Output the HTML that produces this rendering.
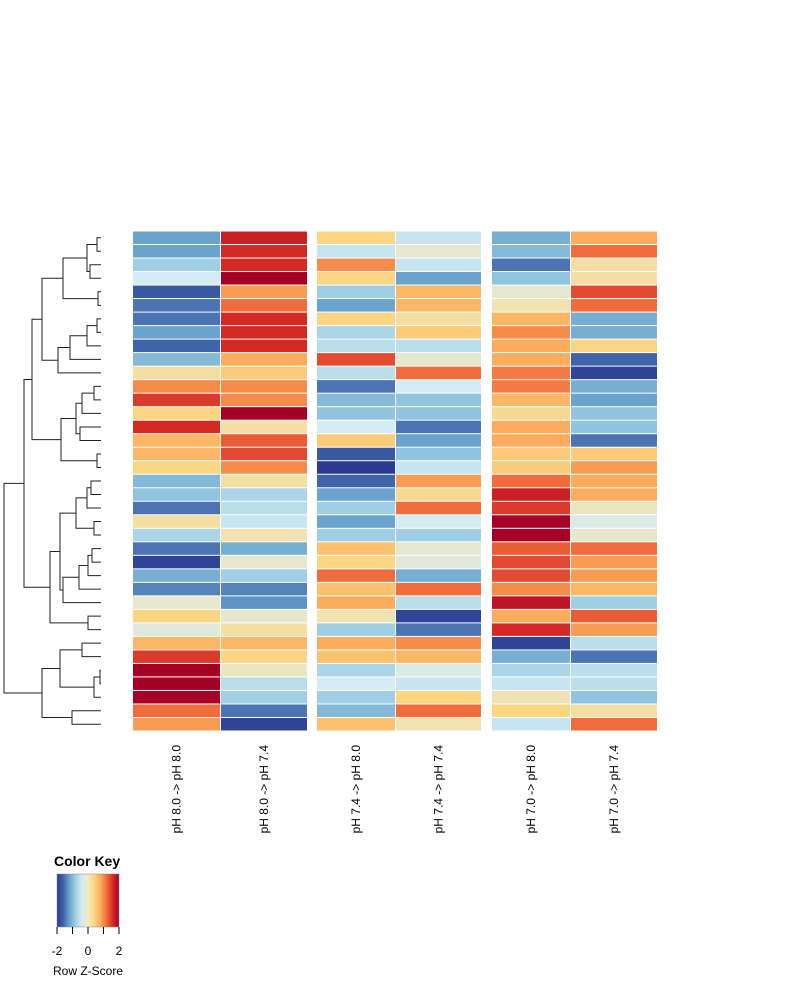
<!DOCTYPE html>
<html><head><meta charset="utf-8"><style>
body{margin:0;background:#fff;font-family:"Liberation Sans",Arial,sans-serif}
svg{display:block}
</style></head><body>
<svg id="chart" width="800" height="1000" viewBox="0 0 800 1000" xmlns="http://www.w3.org/2000/svg">
<g id="dendro" stroke="#222" stroke-width="1" fill="none"></g>
<g id="cells"></g>
<g id="collabels" font-size="12" fill="#000"></g>
<g>
<defs><linearGradient id="kg" x1="0" x2="1" y1="0" y2="0">
<stop offset="0" stop-color="#2b3990"/><stop offset="0.1" stop-color="#3f64a9"/><stop offset="0.2" stop-color="#6aa3cc"/><stop offset="0.3" stop-color="#9ecfe4"/><stop offset="0.4" stop-color="#d4ecf3"/><stop offset="0.5" stop-color="#f3ebc0"/><stop offset="0.6" stop-color="#fbd582"/><stop offset="0.7" stop-color="#fbac5c"/><stop offset="0.8" stop-color="#f06c3c"/><stop offset="0.9" stop-color="#d42a25"/><stop offset="1" stop-color="#a50026"/>
</linearGradient></defs>
<text x="54" y="866" font-size="14" font-weight="bold">Color Key</text>
<rect x="57" y="874" width="62" height="53" fill="url(#kg)" stroke="#888" stroke-width="0.5"/>
<g stroke="#000" stroke-width="1">
<line x1="57" y1="927" x2="57" y2="934"/><line x1="72.5" y1="927" x2="72.5" y2="934"/><line x1="88" y1="927" x2="88" y2="934"/><line x1="103.5" y1="927" x2="103.5" y2="934"/><line x1="119" y1="927" x2="119" y2="934"/>
</g>
<g font-size="12" text-anchor="middle">
<text x="57" y="955">-2</text>
<text x="88" y="955">0</text>
<text x="119" y="955">2</text>
<text x="88" y="975">Row Z-Score</text>
</g>
</g>
</svg>
<script>
const columns = ["pH 8.0 -> pH 8.0","pH 8.0 -> pH 7.4","pH 7.4 -> pH 8.0","pH 7.4 -> pH 7.4","pH 7.0 -> pH 8.0","pH 7.0 -> pH 7.4"];
const rowValues = [
[-1.2,1.7,0.4,-0.5,-1.1,0.8],[-1.2,1.6,-0.5,-0.1,-1.0,1.2],[-0.8,1.6,1.0,-0.5,-1.5,0.2],[-0.4,2.0,0.4,-1.2,-0.9,0.2],
[-1.7,0.9,-0.8,0.7,-0.1,1.4],[-1.5,1.2,-1.2,0.7,0.1,1.2],[-1.5,1.6,0.4,0.2,0.7,-1.1],[-1.2,1.6,-0.7,0.5,1.0,-1.1],
[-1.6,1.6,-0.6,-0.6,0.8,0.4],[-1.0,0.8,1.4,-0.1,0.8,-1.6],[0.2,0.5,-0.6,1.2,1.1,-1.9],[1.0,1.0,-1.5,-0.4,1.1,-1.1],
[1.5,1.0,-1.0,-0.9,0.7,-1.2],[0.4,2.0,-0.9,-0.9,0.3,-0.9],[1.6,0.2,-0.4,-1.5,0.8,-0.9],[0.7,1.3,0.5,-1.2,0.8,-1.5],
[0.7,1.4,-1.7,-0.9,0.5,0.5],[0.4,1.0,-2.0,-0.5,0.5,0.9],[-1.0,0.2,-1.6,0.9,1.2,0.8],[-0.9,-0.7,-1.2,0.3,1.7,0.8],
[-1.5,-0.6,-0.8,1.2,1.5,0.0],[0.2,-0.5,-1.2,-0.4,2.0,-0.3],[-0.7,0.1,-0.8,-0.8,2.0,-0.1],[-1.5,-1.1,0.6,-0.1,1.3,1.2],
[-1.9,-0.1,0.4,-0.2,1.4,0.9],[-1.1,-0.8,1.2,-1.1,1.4,0.9],[-1.4,-1.4,0.6,1.2,1.0,0.7],[-0.1,-1.3,0.8,-0.6,1.8,-0.8],
[0.4,-0.1,0.1,-1.9,0.8,1.3],[-0.2,0.2,-0.8,-1.5,1.6,0.9],[0.7,0.7,0.8,1.0,-1.9,-0.6],[1.5,0.4,0.6,0.7,-1.1,-1.5],
[2.0,0.0,-0.7,-0.3,-0.7,-0.6],[2.0,-0.6,-0.4,-0.5,-0.5,-0.6],[2.0,-0.8,-0.8,0.4,0.1,-0.9],[1.2,-1.5,-1.0,1.2,0.4,0.2],
[0.9,-1.9,0.6,0.1,-0.5,1.2]];
const zTicks = [-2,0,2];
// dendrogram merges: [left, right, height] ; leaves are numbers 0..36, internal nodes referenced as "n"+index
const merges = [
[0,1,97],[2,3,90],["n0","n1",87],[4,5,98],["n2","n3",63],
[6,7,97],["n5",8,87],["n6",9,70],["n7",10,58],["n4","n8",42],
[11,12,94],["n10",13,82],[14,15,80],["n11","n12",76],[16,17,97],["n13","n14",61],["n9","n15",32],
[18,19,91],["n17",20,87],[21,22,94],["n18","n19",76],[23,24,92],["n21",25,88],["n22",26,79],["n23",27,63],
["n20","n24",60],[28,29,88],["n25","n26",50],["n16","n27",24],
[30,31,82],[32,33,100],["n30",34,94],["n29","n31",60],[35,36,72],["n32","n33",42],["n28","n34",4]];

const NS="http://www.w3.org/2000/svg";
const top0=231, bottom0=731, nRows=rowValues.length, rh=(bottom0-top0)/nRows;
const colX=[[133,220],[221,307],[317,395],[396,481],[492,570],[571,657]];
const stops=[[-2,"#2b3990"],[-1.6,"#3f64a9"],[-1.2,"#6aa3cc"],[-0.8,"#9ecfe4"],[-0.4,"#d4ecf3"],[0,"#ece6c0"],[0.4,"#fbd582"],[0.8,"#fbac5c"],[1.2,"#f06c3c"],[1.6,"#d42a25"],[2,"#a50026"]];
function hex(c){return [1,3,5].map(i=>parseInt(c.substr(i,2),16));}
function color(v){v=Math.max(-2,Math.min(2,v));
 for(let i=0;i<stops.length-1;i++){const[a,ca]=stops[i],[b,cb]=stops[i+1];
  if(v<=b){const t=(v-a)/(b-a),A=hex(ca),B=hex(cb);return "rgb("+A.map((x,k)=>Math.round(x+(B[k]-x)*t)).join(",")+")";}}
 return stops[stops.length-1][1];}
function yRow(i){return top0+i*rh;}
const cells=document.getElementById('cells');
rowValues.forEach((row,i)=>{row.forEach((v,j)=>{
 const r=document.createElementNS(NS,'rect');
 
 
 r.setAttribute('x',colX[j][0]);r.setAttribute('y',yRow(i)+0.5);
 r.setAttribute('width',colX[j][1]-colX[j][0]);r.setAttribute('height',rh-1);
 r.setAttribute('fill',color(v));cells.appendChild(r);});});
const labs=document.getElementById('collabels');
columns.forEach((c,j)=>{
 const cx=(colX[j][0]+colX[j][1])/2+4;
 const t=document.createElementNS(NS,'text');
 
 
 t.setAttribute('transform','translate('+cx+',745) rotate(-90)');
 t.setAttribute('text-anchor','end');t.textContent=c;labs.appendChild(t);});
// dendrogram
const dg=document.getElementById('dendro');const leafX=101;const nodes=[];
function pos(n){if(typeof n==="number")return {y:yRow(n)+rh/2,x:leafX};return nodes[+n.slice(1)];}
merges.forEach(([a,b,h])=>{const A=pos(a),B=pos(b);
 const p=document.createElementNS(NS,'path');
 
 
 p.setAttribute('d','M'+A.x+','+A.y+'H'+h+'V'+B.y+'H'+B.x);dg.appendChild(p);
 nodes.push({x:h,y:(A.y+B.y)/2});});
</script>
</body></html>
